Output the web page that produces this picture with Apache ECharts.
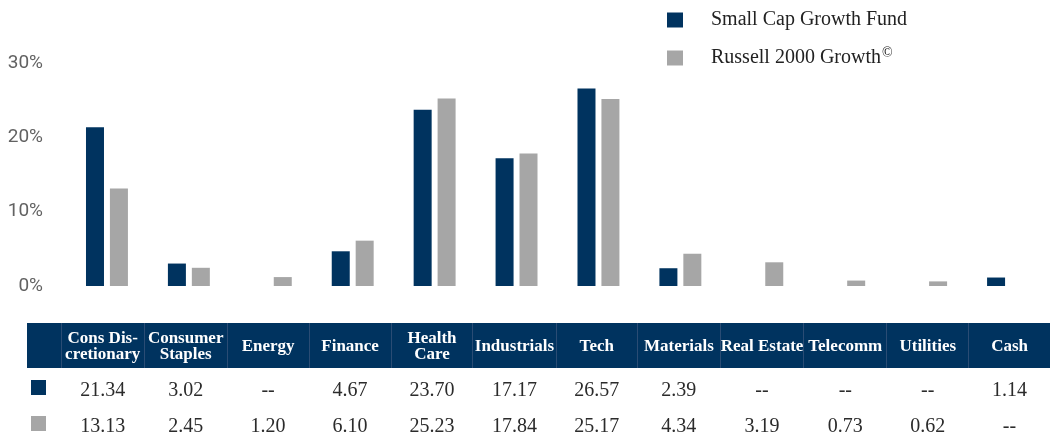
<!DOCTYPE html>
<html>
<head>
<meta charset="utf-8">
<script src="https://cdn.jsdelivr.net/npm/echarts@6/dist/echarts.min.js"></script>
<style>
  html, body { margin: 0; padding: 0; background: #fff; overflow: hidden; }
  #chart { position: absolute; left: 0; top: 0; width: 1050px; height: 438px; }
  #tbl {
    position: absolute; left: 27px; top: 323px;
    border-collapse: collapse; table-layout: fixed;
    font-family: "Liberation Serif", "DejaVu Serif", serif;
  }
  #tbl th {
    background: #00335f; color: #fff; font-weight: bold;
    font-size: 17px; line-height: 16px; height: 45px; padding: 0;
    text-align: center; white-space: nowrap;
    border-left: 1px solid #2a4c74;
  }
  #tbl th:first-child { border-left: none; }
  #tbl td {
    height: 30px; padding: 6px 0 0 0; text-align: center;
    font-size: 20px; color: #2b2b2b; white-space: nowrap;
  }
  .mark { display: block; width: 15px; height: 15px; margin: -3px 0 0 4px; }
</style>
</head>
<body>
<div id="chart"></div>
<table id="tbl"></table>
<script>
// 行业分类
var categories = [
  "Cons Dis-\ncretionary", "Consumer\nStaples", "Energy", "Finance", "Health\nCare",
  "Industrials", "Tech", "Materials", "Real Estate", "Telecomm", "Utilities", "Cash"
];
var fundName = "Small Cap Growth Fund";
var benchName = "Russell 2000 Growth©";
var fundData = [21.34, 3.02, null, 4.67, 23.70, 17.17, 26.57, 2.39, null, null, null, 1.14];
var benchData = [13.13, 2.45, 1.20, 6.10, 25.23, 17.84, 25.17, 4.34, 3.19, 0.73, 0.62, null];
var yTicks = [0, 10, 20, 30];

var navy = "#00335f";
var gray = "#a6a6a6";

var chart = echarts.init(document.getElementById("chart"));
chart.setOption({
  animation: false,
  legend: {
    orient: "vertical",
    left: 667,
    top: 10,
    padding: 0,
    icon: "rect",
    itemWidth: 16,
    itemHeight: 15,
    itemGap: 16,
    data: [fundName, benchName],
    formatter: function (name) {
      if (name === benchName) {
        return "{n|Russell 2000 Growth}{s|©}";
      }
      return "{n|" + name + "}";
    },
    textStyle: {
      padding: [0, 0, 0, 23],
      rich: {
        n: { fontFamily: "Liberation Serif", fontSize: 20, color: "#222", lineHeight: 21 },
        s: { fontFamily: "Liberation Serif", fontSize: 14, color: "#222", padding: [0, 0, 10, 1] }
      }
    }
  },
  grid: { left: 66, right: 1, top: 63, bottom: 152 },
  xAxis: {
    type: "category",
    data: categories,
    axisLine: { show: false },
    axisTick: { show: false },
    axisLabel: { show: false }
  },
  yAxis: {
    type: "value",
    min: yTicks[0],
    max: yTicks[yTicks.length - 1],
    interval: 10,
    splitLine: { show: false },
    axisLine: { show: false },
    axisTick: { show: false },
    axisLabel: {
      formatter: "{value}%",
      fontFamily: "Roboto",
      fontSize: 19,
      color: "#626262",
      margin: 23
    }
  },
  series: [
    {
      name: fundName,
      type: "bar",
      data: fundData,
      barWidth: 18,
      barGap: "33%",
      itemStyle: { color: navy }
    },
    {
      name: benchName,
      type: "bar",
      data: benchData,
      barWidth: 18,
      itemStyle: { color: gray }
    }
  ]
});

// 下方数据表
function fmt(v) { return v == null ? "--" : v.toFixed(2); }
var html = "<colgroup><col style='width:35px'>";
categories.forEach(function () { html += "<col style='width:83.3px'>"; });
html += "</colgroup><tr><th></th>";
categories.forEach(function (c) { html += "<th>" + c.replace("\n", "<br>") + "</th>"; });
html += "</tr>";
[[fundData, navy], [benchData, gray]].forEach(function (row) {
  html += "<tr><td><span class='mark' style='background:" + row[1] + "'></span></td>";
  row[0].forEach(function (v) { html += "<td>" + fmt(v) + "</td>"; });
  html += "</tr>";
});
document.getElementById("tbl").innerHTML = html;
</script>
</body>
</html>
